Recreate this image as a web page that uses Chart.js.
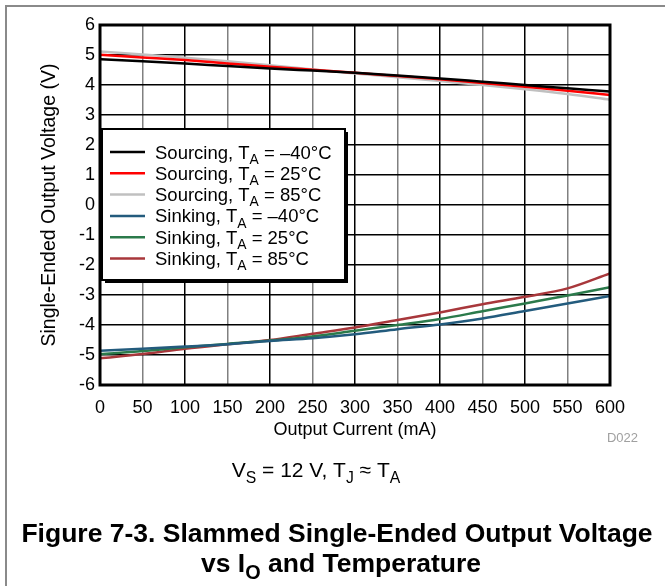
<!DOCTYPE html>
<html>
<head>
<meta charset="utf-8">
<script src="https://cdn.jsdelivr.net/npm/chart.js@4.4.1/dist/chart.umd.min.js"></script>
<style>
  html, body { margin: 0; padding: 0; background: #fff; }
  canvas { display: block; }
</style>
</head>
<body>
<canvas id="chart" width="665" height="586"></canvas>
<script>
// output current (mA)
const current = [0, 50, 100, 150, 200, 250, 300, 350, 400, 450, 500, 550, 600];

// output voltage (V)
const srcMinus40 = [4.86, 4.79, 4.72, 4.63, 4.55, 4.48, 4.41, 4.32, 4.22, 4.11, 4.00, 3.89, 3.78];
const src25 = [5.01, 4.92, 4.83, 4.72, 4.61, 4.51, 4.41, 4.30, 4.19, 4.07, 3.94, 3.81, 3.67];
const src85 = [5.12, 5.02, 4.91, 4.79, 4.66, 4.52, 4.38, 4.26, 4.13, 4.00, 3.86, 3.70, 3.51];
const sinkMinus40 = [-4.86, -4.79, -4.72, -4.64, -4.53, -4.44, -4.31, -4.14, -3.98, -3.78, -3.53, -3.28, -3.03];
const sink25 = [-4.97, -4.87, -4.74, -4.63, -4.52, -4.38, -4.19, -4.00, -3.80, -3.54, -3.28, -3.02, -2.74];
const sink85 = [-5.11, -4.97, -4.79, -4.64, -4.50, -4.29, -4.08, -3.83, -3.58, -3.31, -3.06, -2.78, -2.28];

const modes = ['Sourcing', 'Sourcing', 'Sourcing', 'Sinking', 'Sinking', 'Sinking'];
const temps = ['\u201340', '25', '85', '\u201340', '25', '85'];
const series = [srcMinus40, src25, src85, sinkMinus40, sink25, sink85];
const colors = ['#000000', '#ff0000', '#c0c0c0', '#235b7d', '#2b7a4b', '#a8373b'];

const FONT = '"Liberation Sans", Arial, sans-serif';

// draw text runs, some as subscripts
function runsWidth(ctx, runs, size, weight) {
  let w = 0;
  runs.forEach(r => {
    ctx.font = weight + ' ' + (r[1] ? size * 0.75 : size) + 'px ' + FONT;
    w += ctx.measureText(r[0]).width;
  });
  return w;
}
function drawRuns(ctx, runs, x, y, size, weight) {
  let cx = x;
  ctx.textAlign = 'left';
  ctx.textBaseline = 'alphabetic';
  runs.forEach(r => {
    const s = r[1] ? size * 0.75 : size;
    ctx.font = weight + ' ' + s + 'px ' + FONT;
    ctx.fillText(r[0], cx, r[1] ? y + size * 0.28 : y);
    cx += ctx.measureText(r[0]).width;
  });
}
function drawRunsCentered(ctx, runs, cx, y, size, weight) {
  const w = runsWidth(ctx, runs, size, weight);
  drawRuns(ctx, runs, cx - w / 2, y, size, weight);
}

const decor = {
  id: 'decor',
  afterDraw(chart) {
    const ctx = chart.ctx;
    const a = chart.chartArea;
    ctx.save();

    // outer frame
    ctx.strokeStyle = '#8a8a8a';
    ctx.lineWidth = 2;
    ctx.beginPath();
    ctx.moveTo(6, 586);
    ctx.lineTo(6, 6);
    ctx.lineTo(665, 6);
    ctx.stroke();

    // plot border
    ctx.strokeStyle = '#000';
    ctx.lineWidth = 3;
    ctx.strokeRect(a.left, a.top, a.right - a.left, a.bottom - a.top);

    // legend box
    const bx = 102, by = 129, bw = 243, bh = 151;
    ctx.fillStyle = '#000';
    ctx.fillRect(bx + 3, by + 3, bw, bh);
    ctx.fillStyle = '#fff';
    ctx.fillRect(bx, by, bw, bh);
    ctx.lineWidth = 2;
    ctx.strokeStyle = '#000';
    ctx.strokeRect(bx, by, bw, bh);
    for (let i = 0; i < series.length; i++) {
      const y = 152 + i * 21.3;
      ctx.strokeStyle = colors[i];
      ctx.lineWidth = 2.5;
      ctx.beginPath();
      ctx.moveTo(110, y);
      ctx.lineTo(145, y);
      ctx.stroke();
      ctx.fillStyle = '#000';
      drawRuns(ctx, [[modes[i] + ', T', false], ['A', true], [' = ' + temps[i] + '\u00b0C', false]],
        155, y + 6.5, 18.5, 'normal');
    }

    // D022 tag
    ctx.fillStyle = '#a0a0a0';
    ctx.font = '13px ' + FONT;
    ctx.textAlign = 'right';
    ctx.fillText('D022', 638, 442);

    // conditions
    ctx.fillStyle = '#000';
    drawRunsCentered(ctx, [['V', false], ['S', true], [' = 12 V, T', false], ['J', true],
      [' \u2248 T', false], ['A', true]], 316, 477, 21, 'normal');

    // figure caption
    drawRunsCentered(ctx, [['Figure 7-3. Slammed Single-Ended Output Voltage', false]], 337, 542, 26.5, 'bold');
    drawRunsCentered(ctx, [['vs I', false], ['O', true], [' and Temperature', false]], 341, 572, 26.5, 'bold');

    ctx.restore();
  }
};

new Chart(document.getElementById('chart'), {
  type: 'line',
  data: {
    datasets: series.map((vals, i) => ({
      label: modes[i] + ', TA = ' + temps[i] + '\u00b0C',
      data: vals.map((v, j) => ({ x: current[j], y: v })),
      borderColor: colors[i],
      borderWidth: 2.5,
      pointRadius: 0,
      cubicInterpolationMode: 'monotone',
      fill: false
    }))
  },
  options: {
    responsive: false,
    devicePixelRatio: 1,
    animation: false,
    layout: { padding: { left: 0, top: 25, right: 55, bottom: 0 } },
    plugins: {
      legend: { display: false },
      tooltip: { enabled: false }
    },
    scales: {
      x: {
        type: 'linear',
        min: 0,
        max: 600,
        afterFit: s => { s.height = 201; },
        ticks: {
          stepSize: 50,
          padding: 12,
          color: '#000',
          font: { family: FONT, size: 18 },
          maxRotation: 0
        },
        grid: {
          drawTicks: false,
          lineWidth: 1.5,
          color: c => (c.tick && c.tick.value % 100 === 0) ? '#000' : '#808080'
        },
        border: { display: false },
        title: {
          display: true,
          text: 'Output Current (mA)',
          color: '#000',
          font: { family: FONT, size: 18 },
          padding: { top: 0, bottom: 145 }
        }
      },
      y: {
        min: -6,
        max: 6,
        afterFit: s => { s.width = 100; },
        ticks: {
          stepSize: 1,
          padding: 5,
          color: '#000',
          font: { family: FONT, size: 18 }
        },
        grid: {
          drawTicks: false,
          lineWidth: 1.5,
          color: '#000'
        },
        border: { display: false },
        title: {
          display: true,
          text: 'Single-Ended Output Voltage (V)',
          color: '#000',
          font: { family: FONT, size: 19.5 },
          padding: { top: 38, bottom: 0 }
        }
      }
    }
  },
  plugins: [decor]
});
</script>
</body>
</html>
